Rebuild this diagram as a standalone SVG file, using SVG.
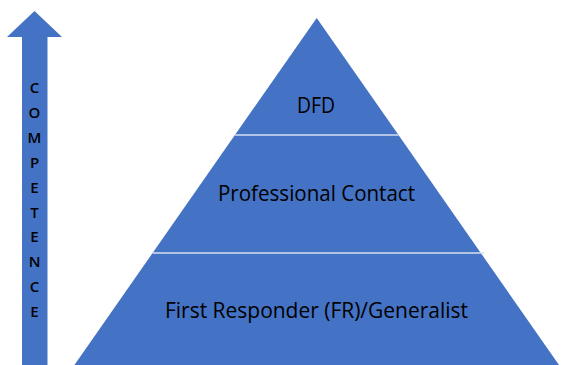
<svg xmlns="http://www.w3.org/2000/svg" width="563" height="365" viewBox="0 0 563 365">
  <style>
    .fill { fill: #4472C4; }
    .sep { stroke: #D6E0F2; stroke-width: 1.3; }
    .label { font-family: "Open Sans", "Noto Sans", "Liberation Sans", sans-serif; font-size: 21px; fill: #000; text-anchor: middle; }
    .axis { font-family: "Open Sans", "Noto Sans", "Liberation Sans", sans-serif; font-size: 15px; font-weight: 600; fill: #000; text-anchor: middle; }
  </style>

  <!-- Competence axis arrow -->
  <g id="competence-arrow">
    <polygon class="fill" points="34.5,11 62,37 47.5,37 47.5,365 22,365 22,37 7,37"/>
    <text class="axis" x="34.5" y="93">C</text>
    <text class="axis" x="34.5" y="118">O</text>
    <text class="axis" x="34.5" y="143">M</text>
    <text class="axis" x="34.5" y="168">P</text>
    <text class="axis" x="34.5" y="193">E</text>
    <text class="axis" x="34.5" y="218">T</text>
    <text class="axis" x="34.5" y="242">E</text>
    <text class="axis" x="34.5" y="267">N</text>
    <text class="axis" x="34.5" y="292">C</text>
    <text class="axis" x="34.5" y="317">E</text>
  </g>

  <!-- Pyramid tiers -->
  <g id="tier-dfd">
    <polygon class="fill" points="316.7,18 398.5,135 234.9,135"/>
    <text class="label" x="316" y="113" textLength="38" lengthAdjust="spacingAndGlyphs">DFD</text>
  </g>
  <g id="tier-professional">
    <polygon class="fill" points="234.9,135 398.5,135 480.8,253 152.6,253"/>
    <text class="label" x="316.5" y="201" textLength="197" lengthAdjust="spacingAndGlyphs">Professional Contact</text>
  </g>
  <g id="tier-first-responder">
    <polygon class="fill" points="152.6,253 480.8,253 559,365 74.4,365"/>
    <text class="label" x="316.5" y="318" textLength="303" lengthAdjust="spacingAndGlyphs">First Responder (FR)/Generalist</text>
  </g>

  <!-- Tier dividers -->
  <g id="connectors">
    <line class="sep" x1="234.9" y1="135" x2="398.5" y2="135"/>
    <line class="sep" x1="152.6" y1="253" x2="484" y2="253"/>
  </g>
</svg>
